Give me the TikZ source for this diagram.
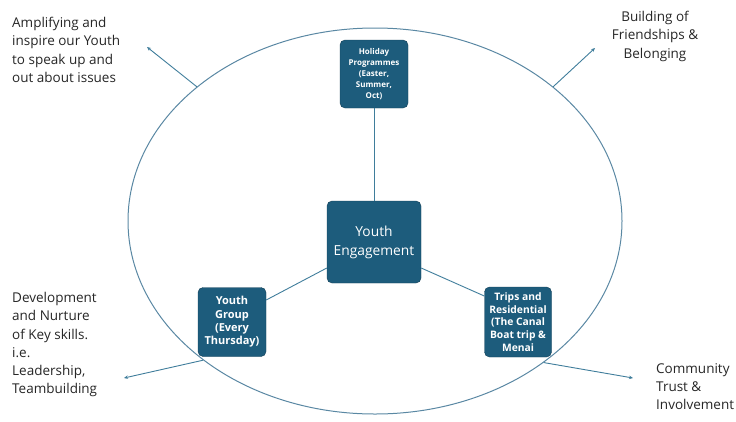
\documentclass[tikz,border=0pt]{standalone}
\usepackage{fontspec}
\setmainfont{Open Sans}
\usetikzlibrary{arrows.meta,shapes.geometric}
\definecolor{boxc}{HTML}{1D5C7C}
\definecolor{linec}{HTML}{3F7D9B}
\definecolor{ellc}{HTML}{5A88A3}
\definecolor{txt}{HTML}{262626}
\tikzset{
  bx/.style={fill=boxc, draw=boxc!70!black, rounded corners=5pt, text=white, align=center, inner sep=0pt},
  conn/.style={draw=linec, line width=0.9pt},
  outarrow/.style={draw=linec, line width=0.9pt, -{Stealth[length=4pt,width=3.5pt]}},
  lbl/.style={text=txt, inner sep=0pt, font=\fontsize{13.5}{18.3}\selectfont}
}
\begin{document}
\begin{tikzpicture}[x=1pt,y=-1pt]
\useasboundingbox (0,0) rectangle (736,421);
\node[ellipse, draw=ellc, line width=1pt, minimum width=494pt, minimum height=386pt, inner sep=0pt] (ell) at (375,221) {};

\node[bx, minimum width=68pt, minimum height=68pt, font=\bfseries\fontsize{8}{10.8}\selectfont] (hol) at (374,74) {Holiday\\Programmes\\(Easter,\\Summer,\\Oct)};
\node[bx, minimum width=94pt, minimum height=82pt, font=\fontsize{13.8}{19}\selectfont] (ye) at (374,242) {Youth\\Engagement};
\node[bx, minimum width=68pt, minimum height=69pt, font=\bfseries\fontsize{11}{13.3}\selectfont] (yg) at (232,322) {Youth\\Group\\(Every\\Thursday)};
\node[bx, minimum width=67pt, minimum height=70pt, font=\bfseries\fontsize{10.3}{12.6}\selectfont] (tr) at (518,322) {Trips and\\Residential\\(The Canal\\Boat trip \&\\Menai};

\draw[conn] (hol) -- (ye);
\draw[conn] (ye.west |- 0,268) -- (yg.east |- 0,300);
\draw[conn] (ye.east |- 0,268) -- (tr.west |- 0,296);

\coordinate (a1) at (147,47);
\coordinate (a2) at (595,48);
\coordinate (a3) at (124,378);
\coordinate (a4) at (633,378);
\draw[outarrow] (ell.143) -- (a1);
\draw[outarrow] (ell.37.5) -- (a2);
\draw[outarrow] (ell.219) -- (a3);
\draw[outarrow] (ell.-40) -- (a4);

\node[lbl, anchor=north west, align=left] (t1) at (12,17) {Amplifying and\\inspire our Youth\\to speak up and\\out about issues};
\node[lbl, anchor=north, align=center] (t2) at (655,11) {Building of\\Friendships \&\\Belonging};
\node[lbl, anchor=north west, align=left] (t3) at (12,292) {Development\\and Nurture\\of Key skills.\\i.e.\\Leadership,\\Teambuilding};
\node[lbl, anchor=north west, align=left] (t4) at (656,363) {Community\\Trust \&\\Involvement};
\end{tikzpicture}
\end{document}
